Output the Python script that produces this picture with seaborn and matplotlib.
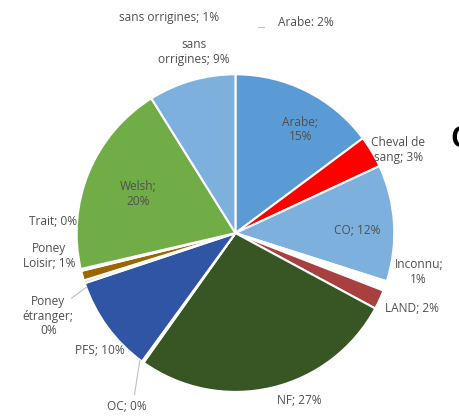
import numpy as np
import matplotlib.pyplot as plt
import seaborn as sns

categories = ["Arabe", "Cheval de\nsang", "CO", "Inconnu", "LAND", "NF", "OC", "PFS",
              "Poney\nétranger", "Poney\nLoisir", "Trait", "Welsh", "sans\norrigines"]
values = [15, 3.3, 12, 1, 2, 27.3, 0.2, 10, 0.3, 1, 0.2, 20, 9]
pct_labels = ["15%", "3%", "12%", "1%", "2%", "27%", "0%", "10%", "0%", "1%", "0%", "20%", "9%"]
colors = ["#5B9BD5", "#FF0000", "#7EB0DE", "#FFFFFF", "#A94040", "#375623", "#7F7F7F",
          "#2F55A4", "#C9C9C9", "#9C6500", "#A5A5A5", "#70AD47", "#7EB0DE"]

# stray labels shown above the pie
extra_labels = ["sans orrigines; 1%", "Arabe: 2%"]

# label placement: (angle in degrees, radius factor)
label_pos = [(58, 0.77), (27, 1.15), (1.4, 0.77), (-12, 1.18), (-23, 1.21), (-69, 1.13),
             (-122, 1.29), (-139, 1.13), (-156, 1.29), (-173, 1.18), (176.5, 1.15),
             (158, 0.66), (103, 1.17)]
extra_pos = [(107, 1.42), (71.5, 1.40)]

sns.set_theme(style="white")
plt.rcParams['font.family'] = ['Open Sans', 'DejaVu Sans']

fig = plt.figure(figsize=(4.59, 4.17), dpi=100)
ax = fig.add_axes([0.167, 0.060, 0.692, 0.762])

wedges, _ = ax.pie(values, colors=colors, startangle=90, counterclock=False,
                   wedgeprops=dict(edgecolor="white", linewidth=1.5))
ax.set_xlim(-1, 1)
ax.set_ylim(-1, 1)
ax.set_aspect("equal")
ax.axis("off")

def label_text(cat, pct):
    if "\n" in cat:
        head, tail = cat.rsplit("\n", 1)
        return head + "\n" + tail + "; " + pct
    return cat + "; " + pct

multi_break = {"Arabe": "Arabe;\n15%", "Welsh": "Welsh;\n20%", "Inconnu": "Inconnu;\n1%",
               "Poney\nétranger": "Poney\nétranger;\n0%"}

txt_kw = dict(fontsize=8.6, color="#505050", clip_on=False)

for cat, pct, (ang, r) in zip(categories, pct_labels, label_pos):
    txt = multi_break.get(cat, label_text(cat, pct))
    x, y = r * np.cos(np.radians(ang)), r * np.sin(np.radians(ang))
    ax.text(x, y, txt, ha="center", va="center", multialignment="center",
            linespacing=1.15, **txt_kw)

for txt, (ang, r) in zip(extra_labels, extra_pos):
    x, y = r * np.cos(np.radians(ang)), r * np.sin(np.radians(ang))
    ax.text(x, y, txt, ha="center", va="center", **txt_kw)

# leader lines
for i, (r0, r1, ang) in {6: (1.0, 1.2, -127.0), 8: (1.0, 1.13, -160.0)}.items():
    ax.plot([r0 * np.cos(np.radians(ang)), np.cos(np.radians(label_pos[i][0])) * r1],
            [r0 * np.sin(np.radians(ang)), np.sin(np.radians(label_pos[i][0])) * r1 + (0.05 if i == 8 else 0)],
            color="#BFBFBF", lw=0.8, clip_on=False)
ax.plot([0.14, 0.18], [1.30, 1.30], color="#BFBFBF", lw=0.8, clip_on=False)

fig.text(0.982, 0.665, "C", fontsize=20, fontweight="bold", color="black", ha="left", va="center")

fig.savefig("out.png", dpi=100)
